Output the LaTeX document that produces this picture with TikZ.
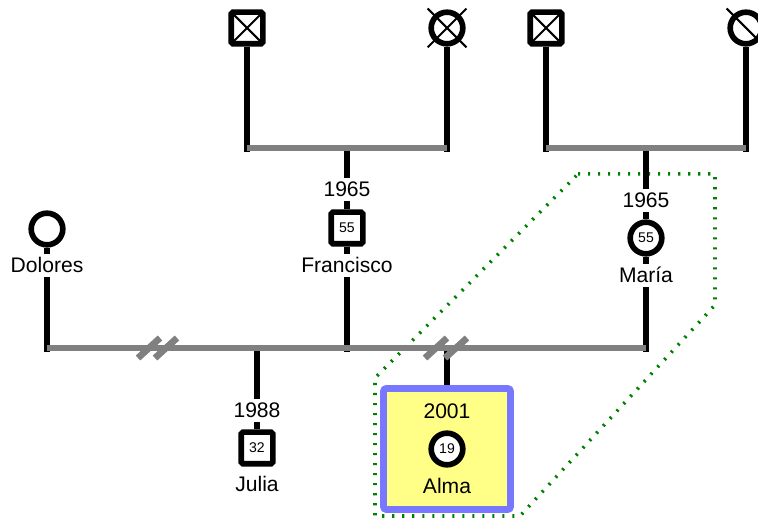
\documentclass[tikz,border=0pt]{standalone}
\usepackage{fontspec}
\setmainfont{Liberation Sans}
\usepackage{tikz}
\usetikzlibrary{calc}

\definecolor{uniongray}{RGB}{128,128,128}
\definecolor{probandfill}{RGB}{255,255,136}
\definecolor{probandblue}{RGB}{119,119,255}
\definecolor{groupgreen}{RGB}{0,128,0}

\begin{document}
\begin{tikzpicture}[x=0.02cm, y=-0.02cm,
  male/.style={rectangle, draw, line width=3.2pt, rounded corners=1pt, minimum size=18pt, inner sep=0pt, fill=white, font=\fontsize{8}{9}\selectfont},
  female/.style={circle, draw, line width=3.2pt, minimum size=18pt, inner sep=0pt, fill=white, font=\fontsize{8}{9}\selectfont},
  dead/.style={path picture={\draw[line width=1.2pt] (path picture bounding box.north west) -- (path picture bounding box.south east) (path picture bounding box.north east) -- (path picture bounding box.south west);}},
  deathline/.style={line width=1.2pt, shorten <=-5pt, shorten >=-5pt},
  txt/.style={font=\fontsize{12}{14}\selectfont, inner sep=2pt, anchor=base},
  kin/.style={line width=3.4pt},
  union/.style={draw=uniongray, line width=3.8pt}
]
\useasboundingbox (0,0) rectangle (758,519);

% group outline
\draw[groupgreen, line width=2pt, dash pattern=on 1.2pt off 4.5pt] (578,174) -- (715,174) -- (715,305) -- (520,516) -- (375,516) -- (375,378) -- cycle;

% grandparents
\node[male, dead] (gpa1) at (247,28) {};
\node[female] (gma1) at (447,28) {};
\node[male, dead] (gpa2) at (546,28) {};
\node[female] (gma2) at (746,28) {};
\draw[deathline] (gma1.north west) -- (gma1.south east);
\draw[deathline] (gma1.north east) -- (gma1.south west);
\draw[deathline] (gma2.north west) -- (gma2.south east);

\coordinate (u1l) at (247,148);
\coordinate (u1r) at (447,148);
\coordinate (u1c) at (347,148);
\coordinate (u2l) at (546,148);
\coordinate (u2r) at (746,148);
\coordinate (u2c) at (646,148);

% parents
\node[female] (dolores) at (47,229) {};
\node[txt] (dname) at (47,273) {Dolores};

\node[txt] (fyear) at (347,197) {1965};
\node[male] (francisco) at (347,228) {55};
\node[txt] (fname) at (347,273) {Francisco};

\node[txt] (myear) at (646,208) {1965};
\node[female] (maria) at (646,238) {55};
\node[txt] (mname) at (646,283) {María};

\coordinate (dbase) at (47,348);
\coordinate (fbase) at (347,348);
\coordinate (mbase) at (646,348);
\coordinate (jtop) at (257,348);
\coordinate (atop) at (447,348);

% children
\node[txt] (jyear) at (257,418) {1988};
\node[male] (julia) at (257,448) {32};
\node[txt] (jname) at (257,492) {Julia};

\node[rectangle, draw=probandblue, fill=probandfill, line width=3.8pt, rounded corners=1.5pt, minimum width=2.54cm, minimum height=2.42cm] (almabox) at (447,449) {};
\node[txt] (ayear) at (447,419) {2001};
\node[female] (alma) at (447,449) {19};
\node[txt] (aname) at (447,494) {Alma};

% lines of descent
\draw[kin, shorten >=-2pt] (gpa1) -- (u1l);
\draw[kin, shorten >=-2pt] (gma1) -- (u1r);
\draw[kin, shorten >=-2pt] (gpa2) -- (u2l);
\draw[kin, shorten >=-2pt] (gma2) -- (u2r);

\draw[kin] (u1c) -- (fyear);
\draw[kin] (fyear) -- (francisco);
\draw[kin] (francisco) -- (fname);
\draw[kin, shorten >=-2pt] (fname) -- (fbase);

\draw[kin] (u2c) -- (myear);
\draw[kin] (myear) -- (maria);
\draw[kin] (maria) -- (mname);
\draw[kin, shorten >=-2pt] (mname) -- (mbase);

\draw[kin] (dolores) -- (dname);
\draw[kin, shorten >=-2pt] (dname) -- (dbase);

\draw[kin] (jtop) -- (jyear);
\draw[kin] (jyear) -- (julia);
\draw[kin] (atop) -- (almabox);

% unions
\draw[union] (u1l) -- (u1r);
\draw[union] (u2l) -- (u2r);
\draw[union] (dbase) -- (fbase);
\draw[union] (fbase) -- (mbase);

% separation marks
\foreach \c in {149,166,436,456}
  \draw[union] (\c-11,358) -- (\c+11,338);
\end{tikzpicture}
\end{document}
